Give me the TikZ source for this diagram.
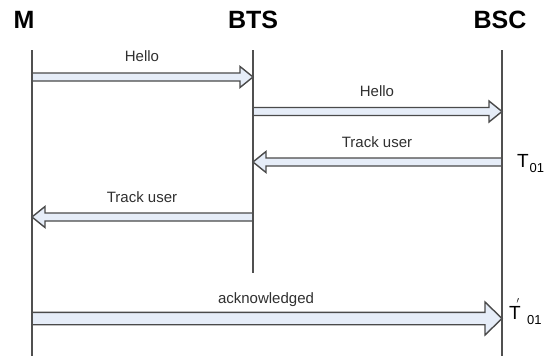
\documentclass[tikz,border=0pt]{standalone}
\usepackage{fontspec}
\setmainfont{Liberation Sans}
\usetikzlibrary{calc}
\definecolor{arrfill}{HTML}{E6EDF8}
\definecolor{arrline}{HTML}{4A4A4A}
\definecolor{lifeline}{HTML}{505050}
\definecolor{labeltext}{HTML}{303030}
\tikzset{
  blockarrow/.style={draw=arrline, fill=arrfill, line width=1.4pt, line join=miter},
  lifelinestyle/.style={draw=lifeline, line width=1.4pt},
  titletext/.style={font=\fontsize{25}{25}\selectfont\bfseries, anchor=base, inner sep=0pt},
  msgtext/.style={font=\fontsize{15}{15}\selectfont, text=labeltext, anchor=base, inner sep=0pt},
  ttext/.style={font=\fontsize{19}{19}\selectfont, anchor=base west, inner sep=0pt},
  subtext/.style={font=\fontsize{13}{13}\selectfont, anchor=base west, inner sep=0pt}
}
% #1 from, #2 to, #3 half shaft, #4 half head, #5 signed head length
\newcommand\blockarr[5]{%
  \draw[blockarrow] ($(#1)+(0,{-(#3)})$) -- ($(#2)+({-(#5)},{-(#3)})$) -- ($(#2)+({-(#5)},{-(#4)})$) -- (#2)
    -- ($(#2)+({-(#5)},{#4})$) -- ($(#2)+({-(#5)},{#3})$) -- ($(#1)+(0,{#3})$) -- cycle;}
\begin{document}
\begin{tikzpicture}[x=1pt,y=-1pt]
\useasboundingbox (0,0) rectangle (548,356);
\fill[white] (0,0) rectangle (548,356);
% titles
\node[titletext] (tM) at (24,28) {M};
\node[titletext] (tBTS) at (253,28) {BTS};
\node[titletext] (tBSC) at (500,28) {BSC};
% lifeline ends
\coordinate (Mtop) at (32,50);
\coordinate (Mbot) at (32,356);
\coordinate (Ttop) at (253,50);
\coordinate (Tbot) at (253,273);
\coordinate (Ctop) at (502,50);
\coordinate (Cbot) at (502,356);
% message anchor points
\coordinate (m1) at (32,77);
\coordinate (t1) at (253,77);
\coordinate (t2) at (253,111.5);
\coordinate (c2) at (502,111.5);
\coordinate (c3) at (502,162);
\coordinate (t3) at (253,162);
\coordinate (t4) at (253,217);
\coordinate (m4) at (32,217);
\coordinate (m5) at (32,318.5);
\coordinate (c5) at (502,318.5);
% arrows
\blockarr{m1}{t1}{4}{10.5}{13}
\blockarr{t2}{c2}{4}{10.5}{13}
\blockarr{c3}{t3}{4}{10.5}{-13}
\blockarr{t4}{m4}{4}{10.5}{-13}
\blockarr{m5}{c5}{6.2}{16.5}{17}
% lifelines
\draw[lifelinestyle] (Mtop) -- (Mbot);
\draw[lifelinestyle] (Ttop) -- (Tbot);
\draw[lifelinestyle] (Ctop) -- (Cbot);
% message labels
\node[msgtext] (l1) at (142,61) {Hello};
\node[msgtext] (l2) at (377,96) {Hello};
\node[msgtext] (l3) at (377,147) {Track user};
\node[msgtext] (l4) at (142,202) {Track user};
\node[msgtext] (l5) at (266,303) {acknowledged};
% timer labels
\node[ttext] (T1) at (517,167) {T};
\node[subtext] (T1s) at (T1.base east) [xshift=0.5pt, yshift=-5pt] {01};
\node[ttext] (T2) at (509,319) {T};
\node[font=\fontsize{13}{13}\selectfont, anchor=base, inner sep=0pt] (T2p) at (518,308) {$'$};
\node[subtext] (T2s) at (527,324) {01};
\end{tikzpicture}
\end{document}
